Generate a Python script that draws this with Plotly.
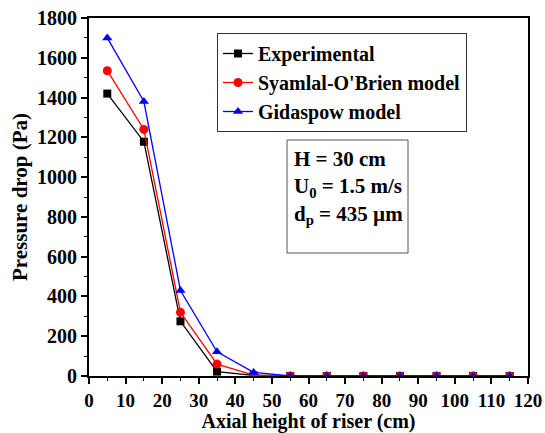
import plotly.graph_objects as go

heights = [5, 15, 25, 35, 45, 55, 65, 75, 85, 95, 105, 115]
experimental = [1420, 1178, 275, 22, 3, 0, 0, 0, 0, 0, 0, 0]
syamlal = [1535, 1240, 320, 60, 4, 0, 0, 0, 0, 0, 0, 0]
gidaspow = [1700, 1380, 430, 122, 18, 0, 0, 0, 0, 0, 0, 0]

font_family = "Liberation Serif"

# plot area in pixels
L, R, T, B = 89, 528, 18, 376
W, H = R - L, B - T
def px(x): return (x - L) / W
def py(y): return (B - y) / H

fig = go.Figure()
fig.add_trace(go.Scatter(x=heights, y=experimental, mode="lines+markers", name="Experimental",
                         line=dict(color="black", width=1.3),
                         marker=dict(symbol="square", size=8, color="black")))
fig.add_trace(go.Scatter(x=heights, y=syamlal, mode="lines+markers", name="Syamlal-O'Brien model",
                         line=dict(color="red", width=1.3),
                         marker=dict(symbol="circle", size=9, color="red")))
fig.add_trace(go.Scatter(x=heights, y=gidaspow, mode="lines+markers", name="Gidaspow model",
                         line=dict(color="blue", width=1.3),
                         marker=dict(symbol="triangle-up", size=9, color="blue")))

axis_common = dict(showline=True, linecolor="black", linewidth=2, mirror=True,
                   ticks="outside", ticklen=6, tickwidth=1.5, tickcolor="black",
                   showgrid=False, zeroline=False, automargin=False)

fig.update_xaxes(range=[0, 120], dtick=10, tick0=0,
                 tickfont=dict(family=font_family, size=19, color="black", weight=700),
                 minor=dict(dtick=5, ticklen=3, tickwidth=1.2, tickcolor="black", ticks="outside", showgrid=False),
                 title=dict(text="Axial height of riser (cm)", standoff=0,
                            font=dict(family=font_family, size=20, color="black", weight=700)),
                 **axis_common)
fig.update_yaxes(range=[0, 1800], dtick=200, tick0=0,
                 tickfont=dict(family=font_family, size=20, color="black", weight=700),
                 minor=dict(dtick=100, ticklen=3, tickwidth=1.2, tickcolor="black", ticks="outside", showgrid=False),
                 title=dict(text="Pressure drop (Pa)", standoff=4,
                            font=dict(family=font_family, size=21, color="black", weight=700)),
                 **axis_common)

# condition box
fig.add_shape(type="rect", xref="paper", yref="paper",
              x0=px(287), x1=px(408), y0=py(253), y1=py(140),
              line=dict(color="#555", width=1), fillcolor="white", layer="below")
fig.add_annotation(xref="paper", yref="paper", x=px(293), y=py(146),
                   xanchor="left", yanchor="top", align="left", showarrow=False,
                   text="H = 30 cm<br>U<sub>0</sub> = 1.5 m/s<br>d<sub>p</sub> = 435 µm",
                   font=dict(family=font_family, size=21, color="black", weight=700),
                   borderpad=0)

fig.update_layout(
    width=545, height=433,
    margin=dict(l=L, r=545 - R, t=T, b=433 - B),
    plot_bgcolor="white", paper_bgcolor="white",
    legend=dict(x=px(217), y=py(33), xanchor="left", yanchor="top",
                bordercolor="#333", borderwidth=1, bgcolor="white",
                font=dict(family=font_family, size=20, color="black", weight=700),
                tracegroupgap=0),
    showlegend=True,
)

fig.write_html("out.html")
